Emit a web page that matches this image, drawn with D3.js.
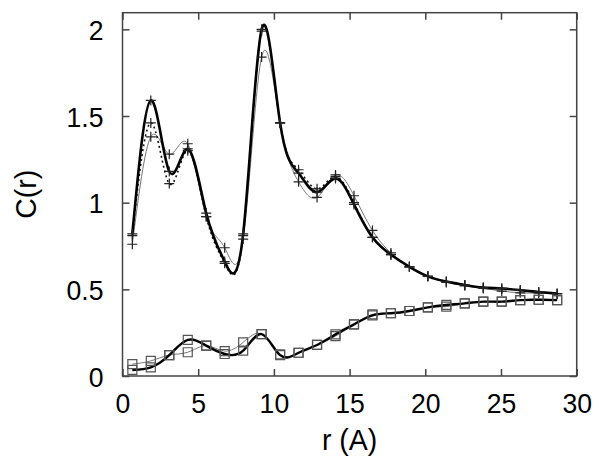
<!DOCTYPE html>
<html>
<head>
<meta charset="utf-8">
<script src="https://cdn.jsdelivr.net/npm/d3@7"></script>
<style>
body { margin: 0; background: #fff; }
text { font-family: "Liberation Sans", Arial, sans-serif; fill: #000; }
</style>
</head>
<body>
<svg id="chart" width="600" height="464"></svg>
<script>

// sample positions (r, in A) shared by every series
var r = [0.65, 1.87, 3.09, 4.31, 5.53, 6.75, 7.97, 9.19, 10.41, 11.63, 12.85, 14.07,
	15.29, 16.51, 17.73, 18.95, 20.17, 21.39, 22.61, 23.83, 25.05, 26.27, 27.49, 28.71]

// upper curves (+ markers)
var cThick  = [0.82, 1.59, 1.18, 1.31, 0.94, 0.66, 0.82, 2.00, 1.46, 1.17, 1.06, 1.14,
	0.99, 0.80, 0.70, 0.63, 0.575, 0.545, 0.525, 0.51, 0.505, 0.495, 0.485, 0.475]
var cDotted = [0.81, 1.46, 1.11, 1.30, 0.92, 0.65, 0.81, 1.99, 1.46, 1.19, 1.08, 1.15,
	1.00, 0.80, 0.70, 0.63, 0.575, 0.545, 0.525, 0.51, 0.505, 0.495, 0.485, 0.475]
var cThin   = [0.76, 1.38, 1.28, 1.34, 0.92, 0.74, 0.79, 1.84, 1.46, 1.12, 1.03, 1.16,
	1.04, 0.84, 0.71, 0.63, 0.575, 0.54, 0.52, 0.505, 0.49, 0.48, 0.478, 0.475]

// lower curves (square markers)
var sThick = [0.035, 0.05, 0.12, 0.208, 0.175, 0.127, 0.146, 0.242, 0.12, 0.134, 0.179, 0.24,
	0.298, 0.35, 0.362, 0.375, 0.396, 0.41, 0.419, 0.429, 0.429, 0.438, 0.44, 0.438]
var sThin  = [0.069, 0.087, 0.121, 0.137, 0.175, 0.144, 0.194, 0.242, 0.125, 0.134, 0.179, 0.23,
	0.298, 0.355, 0.362, 0.375, 0.396, 0.40, 0.419, 0.429, 0.429, 0.438, 0.44, 0.438]

var xTicks = [0, 5, 10, 15, 20, 25, 30]
var yTicks = [0, 0.5, 1, 1.5, 2]
var xLabel = "r (A)"
var yLabel = "C(r)"

var svg = d3.select("#chart")
var pLeft = 122.5, pRight = 576.7, pTop = 12.7, pBottom = 376
var sx = 0.95

var x = d3.scaleLinear().domain([0, 30]).range([pLeft, pRight])
var y = d3.scaleLinear().domain([0, 2.096]).range([pBottom, pTop])

function pts(vals) {
	return r.map(function(d, i) { return [d, vals[i]] })
}

var line = d3.line()
	.x(function(d) { return x(d[0]) })
	.y(function(d) { return y(d[1]) })
	.curve(d3.curveNatural)

// series: values, marker, stroke, width, dash
var series = [
	[cThin, "plus", "#777", 1, null],
	[cDotted, "plus", "#111", 1.6, "2,3"],
	[cThick, "plus", "#000", 2.6, null],
	[sThin, "square", "#777", 1, null],
	[sThick, "square", "#000", 2.4, null]
]

var plot = svg.append("g")
series.forEach(function(s) {
	plot.append("path")
		.attr("d", line(pts(s[0])))
		.attr("fill", "none")
		.attr("stroke", s[2])
		.attr("stroke-width", s[3])
		.attr("stroke-dasharray", s[4])
		.attr("stroke-linejoin", "round")
})
series.forEach(function(s) {
	var g = plot.append("g")
	pts(s[0]).forEach(function(p) {
		var m = g.append("path")
			.attr("transform", "translate(" + x(p[0]) + "," + y(p[1]) + ")")
			.attr("fill", "none")
		if (s[1] == "plus") {
			m.attr("d", "M-5,0H5M0,-5V5").attr("stroke", "#222").attr("stroke-width", 1.2)
		} else {
			m.attr("d", "M-4.5,-4.5H4.5V4.5H-4.5Z").attr("stroke", "#555").attr("stroke-width", 1.2)
		}
	})
})

// frame and ticks (mirrored on all sides, pointing inward)
var frameColor = "#444"
svg.append("rect")
	.attr("x", pLeft).attr("y", pTop)
	.attr("width", pRight - pLeft).attr("height", pBottom - pTop)
	.attr("fill", "none").attr("stroke", frameColor).attr("stroke-width", 1.5)

var axB = svg.append("g").attr("transform", "translate(0," + pBottom + ")")
	.call(d3.axisBottom(x).tickValues(xTicks).tickSize(-7).tickPadding(0).tickFormat(d3.format("d")))
var axT = svg.append("g").attr("transform", "translate(0," + pTop + ")")
	.call(d3.axisTop(x).tickValues(xTicks).tickSize(-7).tickFormat(""))
var axL = svg.append("g").attr("transform", "translate(" + pLeft + ",0)")
	.call(d3.axisLeft(y).tickValues(yTicks).tickSize(-7).tickFormat(d3.format("")))
var axR = svg.append("g").attr("transform", "translate(" + pRight + ",0)")
	.call(d3.axisRight(y).tickValues(yTicks).tickSize(-7).tickFormat(""))

;[axB, axT, axL, axR].forEach(function(a) {
	a.select(".domain").remove()
	a.selectAll("line").attr("stroke", frameColor).attr("stroke-width", 1.5)
})

axB.selectAll("text")
	.attr("y", null).attr("dy", null)
	.attr("font-size", 28)
	.attr("transform", "translate(0,37) scale(" + sx + ",1)")
axL.selectAll("text")
	.attr("x", null).attr("dy", null)
	.attr("font-size", 28)
	.attr("transform", "translate(-19,10) scale(" + sx + ",1)")

svg.append("text")
	.attr("text-anchor", "middle")
	.attr("font-size", 30)
	.attr("transform", "translate(" + ((pLeft + pRight) / 2) + ",450) scale(" + sx + ",1)")
	.text(xLabel)

svg.append("text")
	.attr("text-anchor", "middle")
	.attr("font-size", 30)
	.attr("transform", "translate(36," + ((pTop + pBottom) / 2) + ") rotate(-90) scale(" + sx + ",1)")
	.text(yLabel)

</script>
</body>
</html>
